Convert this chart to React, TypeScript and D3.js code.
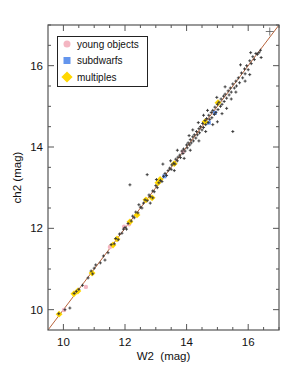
import React from 'react';
import * as d3 from 'd3';

// [W2, ch2] pairs
const crosses: [number, number][] = [
  [9.85, 9.9], [10.05, 10.0], [10.21, 10.04], [10.35, 10.4], [10.42, 10.45], [10.5, 10.5],
  [10.62, 10.6], [10.8, 10.78], [10.9, 10.95], [10.95, 10.88], [11.0, 11.02], [11.05, 11.1],
  [11.2, 11.15], [11.3, 11.32], [11.45, 11.4], [11.55, 11.6], [11.65, 11.62], [11.7, 11.75],
  [11.78, 11.72], [11.82, 11.86], [11.9, 11.88], [11.95, 11.98], [12.0, 12.02], [12.05, 11.98],
  [12.1, 12.12], [12.2, 12.18], [12.25, 12.3], [12.3, 12.26], [12.35, 12.4], [12.42, 12.38],
  [12.5, 12.52], [12.55, 12.5], [12.6, 12.62], [12.65, 12.7], [12.72, 12.68], [12.78, 12.82],
  [12.82, 12.78], [12.9, 12.92], [12.95, 12.9], [13.0, 13.05], [13.05, 13.0], [13.1, 13.12],
  [13.15, 13.18], [13.2, 13.15], [13.25, 13.28], [13.3, 13.35], [13.35, 13.3], [13.4, 13.42],
  [13.45, 13.48], [13.5, 13.45], [13.52, 13.56], [13.58, 13.6], [13.62, 13.58], [13.65, 13.7],
  [13.7, 13.66], [13.72, 13.75], [13.78, 13.8], [13.8, 13.74], [13.85, 13.9], [13.88, 13.84],
  [13.9, 13.95], [13.95, 13.9], [14.0, 14.05], [14.02, 13.98], [14.05, 14.1], [14.1, 14.05],
  [14.12, 14.18], [14.15, 14.1], [14.2, 14.25], [14.22, 14.15], [14.25, 14.3], [14.3, 14.22],
  [14.32, 14.38], [14.35, 14.3], [14.4, 14.45], [14.42, 14.35], [14.45, 14.5], [14.5, 14.42],
  [14.52, 14.58], [14.55, 14.48], [14.6, 14.65], [14.62, 14.55], [14.65, 14.7], [14.7, 14.6],
  [14.72, 14.78], [14.75, 14.68], [14.8, 14.85], [14.82, 14.72], [14.85, 14.9], [14.9, 14.8],
  [14.92, 14.98], [14.95, 14.85], [15.0, 15.05], [15.02, 14.92], [15.05, 15.1], [15.1, 15.0],
  [15.12, 15.18], [15.15, 15.05], [15.2, 15.25], [15.22, 15.12], [15.25, 15.3], [15.3, 15.2],
  [15.35, 15.38], [15.38, 15.28], [15.42, 15.45], [15.45, 15.35], [15.5, 15.55], [15.55, 15.45],
  [15.6, 15.62], [15.62, 15.5], [15.68, 15.7], [15.72, 15.58], [15.78, 15.82], [15.82, 15.7],
  [15.88, 15.92], [15.9, 15.8], [15.95, 16.0], [16.0, 15.9], [16.05, 16.12], [16.1, 16.05],
  [16.15, 16.22], [16.2, 16.15], [16.25, 16.3], [16.3, 16.28], [16.35, 16.32], [16.4, 16.38],
  [15.0, 14.62], [14.85, 14.55], [15.3, 14.95], [15.15, 14.82], [14.2, 14.42], [13.7, 13.92],
  [14.55, 14.78], [15.6, 15.35], [15.9, 15.62], [14.4, 14.15], [13.6, 13.42], [12.9, 12.75],
  [14.08, 14.28], [14.38, 14.6], [14.68, 14.9], [14.98, 15.22], [15.25, 15.48], [15.75, 16.02],
  [16.08, 16.32], [14.62, 14.38], [14.12, 13.92], [13.92, 13.72], [15.45, 15.18], [16.05, 15.78],
  [13.48, 13.66], [13.02, 13.2], [12.45, 12.58], [11.35, 11.22], [12.82, 12.62], [16.42, 16.2],
  [12.16, 13.07], [12.72, 13.32], [13.23, 13.58], [15.5, 14.38],
];
const bigCross: [number, number][] = [[16.7, 16.84]];
const young: [number, number][] = [
  [10.02, 9.99], [10.73, 10.56], [11.51, 11.54], [11.97, 12.04], [12.13, 12.1], [13.88, 13.88],
];
const subdwarfs: [number, number][] = [[13.28, 13.28], [14.72, 14.6], [14.92, 14.84]];
const multiples: [number, number][] = [
  [9.86, 9.89], [10.34, 10.39], [10.47, 10.46], [10.93, 10.9], [11.61, 11.59], [11.74, 11.74],
  [12.16, 12.16], [12.39, 12.33], [12.68, 12.7], [12.88, 12.75], [13.07, 13.12], [13.14, 13.2],
  [13.6, 13.59], [14.6, 14.62], [15.02, 15.09],
];
const majorTicks = [10, 12, 14, 16];
const minorTicks = d3.range(10, 17.01, 0.5).filter(t => !majorTicks.includes(t));
const legendItems = ['young objects', 'subdwarfs', 'multiples'];

const W = 298, H = 385;
const m = { left: 48, right: 19, top: 25, bottom: 55 };
const font = 'Liberation Sans, Arial, Helvetica, sans-serif';

export default function App() {
  const x = d3.scaleLinear().domain([9.5, 17]).range([m.left, W - m.right]);
  const y = d3.scaleLinear().domain([9.5, 17]).range([H - m.bottom, m.top]);
  const [x0, x1] = x.range();
  const [y0, y1] = y.range();
  const axis = '#555';
  const diamond = d3.symbol(d3.symbolDiamond2, 30)()!;

  return (
    <svg width={W} height={H} style={{ position: 'absolute', left: 0, top: 0, background: '#fff' }}
      fontFamily={font}>
      <rect x={0} y={0} width={W} height={H} fill="#fff" />
      {/* 1:1 line */}
      <line x1={x(9.5)} y1={y(9.5)} x2={x(17)} y2={y(17)} stroke="#b8643c" strokeWidth={1} />
      {young.map((d, i) => (
        <circle key={'y' + i} cx={x(d[0])} cy={y(d[1])} r={2.2} fill="#f4b6c2" />
      ))}
      {subdwarfs.map((d, i) => (
        <rect key={'s' + i} x={x(d[0]) - 2} y={y(d[1]) - 2} width={4} height={4} fill="#6495ed" />
      ))}
      {multiples.map((d, i) => (
        <path key={'m' + i} d={diamond} transform={`translate(${x(d[0])},${y(d[1])})`} fill="#ffd700" />
      ))}
      {crosses.map((d, i) => (
        <path key={'c' + i} d={`M${x(d[0]) - 1.5},${y(d[1])}h3M${x(d[0])},${y(d[1]) - 1.5}v3`}
          stroke="#333" strokeWidth={0.9} />
      ))}
      {bigCross.map((d, i) => (
        <path key={'b' + i} d={`M${x(d[0]) - 4},${y(d[1])}h8M${x(d[0])},${y(d[1]) - 4}v8`}
          stroke="#555" strokeWidth={0.8} />
      ))}
      {/* frame */}
      <rect x={x0} y={y1} width={x1 - x0} height={y0 - y1} fill="none" stroke={axis} strokeWidth={1.2} />
      {majorTicks.map(t => (
        <g key={'M' + t} stroke={axis} strokeWidth={1}>
          <line x1={x(t)} x2={x(t)} y1={y0} y2={y0 - 6} />
          <line x1={x(t)} x2={x(t)} y1={y1} y2={y1 + 6} />
          <line y1={y(t)} y2={y(t)} x1={x0} x2={x0 + 6} />
          <line y1={y(t)} y2={y(t)} x1={x1} x2={x1 - 6} />
        </g>
      ))}
      {minorTicks.map(t => (
        <g key={'m' + t} stroke={axis} strokeWidth={1}>
          <line x1={x(t)} x2={x(t)} y1={y0} y2={y0 - 3} />
          <line x1={x(t)} x2={x(t)} y1={y1} y2={y1 + 3} />
          <line y1={y(t)} y2={y(t)} x1={x0} x2={x0 + 3} />
          <line y1={y(t)} y2={y(t)} x1={x1} x2={x1 - 3} />
        </g>
      ))}
      {majorTicks.map(t => (
        <text key={'xl' + t} x={x(t)} y={y0 + 16} fontSize={11.5} textAnchor="middle" fill="#111">{t}</text>
      ))}
      {majorTicks.map(t => (
        <text key={'yl' + t} x={x0 - 5} y={y(t) + 4} fontSize={11.5} textAnchor="end" fill="#111">{t}</text>
      ))}
      <text x={(x0 + x1) / 2} y={y0 + 30} fontSize={11.5} textAnchor="middle" fill="#111"
        style={{ whiteSpace: 'pre' }}>W2  (mag)</text>
      <text transform={`translate(21,${(y0 + y1) / 2}) rotate(-90)`} fontSize={11.5} textAnchor="middle"
        fill="#111">ch2 (mag)</text>
      {/* legend */}
      <rect x={57.5} y={36.5} width={90} height={50} fill="#fff" stroke="#222" strokeWidth={1} />
      {legendItems.map((name, i) => {
        const cy = 44 + i * 16.5;
        return (
          <g key={name}>
            {i === 0 && <circle cx={67} cy={cy} r={3.5} fill="#f4b6c2" />}
            {i === 1 && <rect x={63.5} y={cy - 3.5} width={7} height={7} fill="#6495ed" />}
            {i === 2 && <path d={d3.symbol(d3.symbolDiamond2, 80)()!} transform={`translate(67,${cy})`} fill="#ffd700" />}
            <text x={77} y={cy + 3.5} fontSize={10} fill="#111">{name}</text>
          </g>
        );
      })}
    </svg>
  );
}
